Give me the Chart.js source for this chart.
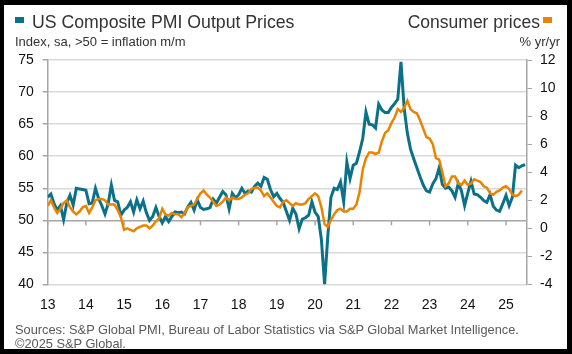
<!DOCTYPE html>
<html>
<head>
<meta charset="utf-8">
<script src="https://cdn.jsdelivr.net/npm/chart.js@4"></script>
<style>
  body { margin: 0; background: #000; width: 572px; height: 354px; overflow: hidden; font-family: "Liberation Sans", Arial, sans-serif; }
  #panel { position: absolute; left: 4px; top: 5px; width: 563px; height: 344px; background: #fff; }
  #chart { position: absolute; left: 0; top: 0; }
  .t { position: absolute; white-space: nowrap; line-height: 1; color: #333; }
  .sq { position: absolute; width: 9px; height: 6px; }
</style>
</head>
<body>
<div id="panel"></div>
<canvas id="chart" width="572" height="354"></canvas>
<div class="sq" style="left:15px;top:17px;background:#0b7189"></div>
<div class="t" style="left:32px;top:14px;font-size:17.7px">US Composite PMI Output Prices</div>
<div class="t" style="left:15px;top:35px;font-size:13px">Index, sa, &gt;50 = inflation m/m</div>
<div class="t" style="right:32px;top:14px;font-size:17.5px">Consumer prices</div>
<div class="sq" style="left:543px;top:17px;background:#e98300"></div>
<div class="t" style="right:12px;top:35px;font-size:13px">% yr/yr</div>
<div class="t" style="left:15px;top:323px;font-size:12.8px;line-height:13.5px;color:#595959">Sources: S&amp;P Global PMI, Bureau of Labor Statistics via S&amp;P Global Market Intelligence.<br>©2025 S&amp;P Global.</div>
<script>
// Monthly, Jan 2013 onwards
const yearLabels = ['13', '14', '15', '16', '17', '18', '19', '20', '21', '22', '23', '24', '25'];

// US Composite PMI Output Prices (index), Jan 2013 - Jul 2025
const pmiPrices = [
  53.6, 54.1, 52.6, 51.6, 52.3, 50.1, 52.7, 53.9, 52.4, 55.0, 54.9, 54.8,
  54.7, 52.6, 52.7, 55.0, 53.4, 52.3, 51.0, 52.6, 55.5, 53.1, 52.9, 50.8,
  51.6, 52.0, 52.9, 51.3, 53.2, 51.8, 53.0, 51.2, 50.0, 50.6, 52.0, 50.6,
  49.6, 50.6, 49.8, 50.6, 51.3, 51.2, 51.3, 51.0, 52.1, 52.8, 51.6, 53.2,
  52.0, 51.7, 51.8, 52.0, 53.3, 52.7, 53.6, 54.5, 54.0, 51.8, 54.2, 53.5,
  54.0, 55.0, 54.2, 54.6, 54.4, 55.3, 55.8, 55.3, 56.7, 56.4, 54.8, 53.7,
  54.2, 53.4, 52.8, 51.4, 50.0, 51.9, 51.0, 48.7, 50.2, 50.4, 50.8, 52.9,
  51.3, 50.6, 47.0, 40.0, 47.5, 53.6, 55.0, 54.8, 56.0, 52.9, 59.1, 56.5,
  58.6, 58.9, 60.7, 62.8, 66.9, 65.0, 64.9, 64.4, 68.1, 67.2, 66.8, 66.8,
  67.6, 68.2, 68.9, 74.7, 67.5, 63.6, 61.1, 59.6, 58.2, 56.8, 55.5, 54.6,
  54.4, 55.7, 56.5, 58.2, 55.6, 55.0, 55.2, 54.6, 53.6, 55.8, 54.6, 52.3,
  54.3, 56.1, 54.1, 54.0, 53.6, 53.1, 52.8, 54.0, 52.2, 51.6, 51.4, 52.6,
  53.9, 52.3, 53.6, 58.6, 58.2, 58.5, 58.7
];

// Consumer prices, % yr/yr, Jan 2013 - Jun 2025
const consumerPrices = [
  1.6, 2.0, 1.5, 1.1, 1.4, 1.8, 2.0, 1.5, 1.2, 1.0, 1.2, 1.5,
  1.6, 1.1, 1.5, 2.0, 2.1, 2.1, 2.0, 1.7, 1.7, 1.7, 1.3, 0.8,
  -0.1, 0.0, -0.1, -0.2, 0.0, 0.1, 0.2, 0.2, 0.0, 0.2, 0.5, 0.7,
  1.4, 1.0, 0.9, 1.1, 1.0, 1.0, 0.8, 1.1, 1.5, 1.6, 1.7, 2.1,
  2.5, 2.7, 2.4, 2.2, 1.9, 1.6, 1.7, 1.9, 2.2, 2.0, 2.2, 2.1,
  2.1, 2.2, 2.4, 2.5, 2.8, 2.9, 2.9, 2.7, 2.3, 2.5, 2.2, 1.9,
  1.6, 1.5, 1.9, 2.0, 1.8, 1.6, 1.8, 1.7, 1.7, 1.8, 2.1, 2.3,
  2.5, 2.3, 1.5, 0.3, 0.1, 0.6, 1.0, 1.3, 1.4, 1.2, 1.2, 1.4,
  1.4, 1.7, 2.6, 4.2, 5.0, 5.4, 5.4, 5.3, 5.4, 6.2, 6.8, 7.0,
  7.5, 7.9, 8.5, 8.3, 8.6, 9.1, 8.5, 8.3, 8.2, 7.7, 7.1, 6.5,
  6.4, 6.0, 5.0, 4.9, 4.0, 3.0, 3.2, 3.7, 3.7, 3.2, 3.1, 3.4,
  3.1, 3.2, 3.5, 3.4, 3.3, 3.0, 2.9, 2.5, 2.4, 2.6, 2.7, 2.9,
  3.0, 2.8, 2.4, 2.3, 2.4, 2.7
];

const leftTicks = [40, 45, 50, 55, 60, 65, 70, 75];
const rightTicks = [-4, -2, 0, 2, 4, 6, 8, 10, 12];

const teal = '#0b7189';
const orange = '#e98300';
const tickFont = { family: 'Liberation Sans', size: 14 };

// year tick marks sit on the 50 line
const yearTicksOn50 = {
  id: 'yearTicksOn50',
  beforeDatasetsDraw(chart) {
    const { ctx, scales } = chart;
    const y = scales.yL.getPixelForValue(50);
    ctx.save();
    ctx.strokeStyle = '#a6a6a6';
    ctx.lineWidth = 1.5;
    yearLabels.forEach((_, i) => {
      const x = scales.x.getPixelForValue(i * 12);
      ctx.beginPath();
      ctx.moveTo(x, y);
      ctx.lineTo(x, y + 5);
      ctx.stroke();
    });
    ctx.restore();
  }
};

new Chart(document.getElementById('chart'), {
  type: 'line',
  data: {
    datasets: [
      {
        label: 'Consumer prices',
        data: consumerPrices.map((v, i) => ({ x: i, y: v })),
        yAxisID: 'yR',
        borderColor: orange,
        borderWidth: 2.5,
        pointRadius: 0,
        tension: 0,
        order: 0
      },
      {
        label: 'US Composite PMI Output Prices',
        data: pmiPrices.map((v, i) => ({ x: i, y: v })),
        yAxisID: 'yL',
        borderColor: teal,
        borderWidth: 3,
        pointRadius: 0,
        tension: 0,
        order: 1
      }
    ]
  },
  options: {
    responsive: false,
    animation: false,
    layout: { padding: { left: 0, right: 0, top: 60, bottom: 39.5 } },
    plugins: { legend: { display: false }, tooltip: { enabled: false } },
    scales: {
      x: {
        type: 'linear',
        min: 0,
        max: 150.6,
        afterBuildTicks: s => { s.ticks = yearLabels.map((_, i) => ({ value: i * 12 })); },
        afterFit: s => { s.height = 30; },
        grid: { display: false },
        border: { display: false },
        ticks: {
          autoSkip: false,
          maxRotation: 0,
          padding: 4,
          color: '#111',
          font: tickFont,
          callback: (v, i) => yearLabels[i]
        }
      },
      yL: {
        position: 'left',
        min: 40,
        max: 75,
        afterBuildTicks: s => { s.ticks = leftTicks.map(v => ({ value: v })); },
        afterFit: s => { s.width = 47.7; },
        grid: {
          color: c => c.tick && c.tick.value === 50 ? '#a6a6a6' : '#d9d9d9',
          lineWidth: 1.5,
          tickLength: 5,
          tickColor: '#a6a6a6'
        },
        border: { color: '#a6a6a6', width: 1.5 },
        ticks: { padding: 9, color: '#111', font: tickFont }
      },
      yR: {
        position: 'right',
        min: -4,
        max: 12,
        afterBuildTicks: s => { s.ticks = rightTicks.map(v => ({ value: v })); },
        afterFit: s => { s.width = 45; },
        grid: { drawOnChartArea: false, tickLength: 5, tickColor: '#a6a6a6' },
        border: { color: '#a6a6a6', width: 1.5 },
        ticks: { padding: 8, color: '#111', font: tickFont }
      }
    }
  },
  plugins: [yearTicksOn50]
});
</script>
</body>
</html>
